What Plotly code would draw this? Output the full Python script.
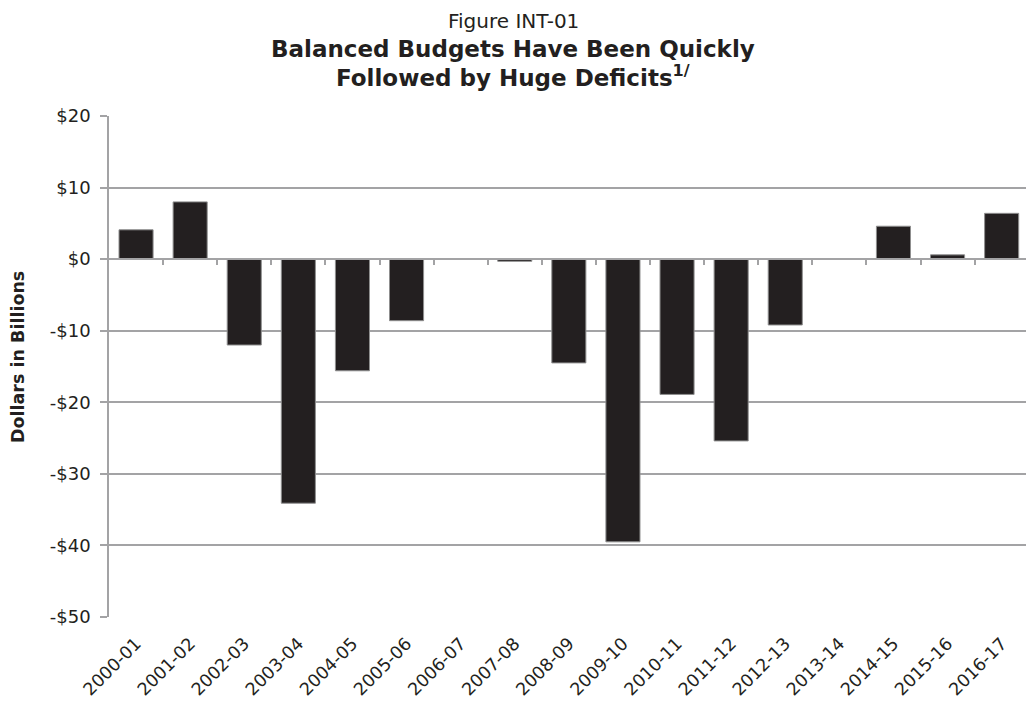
import plotly.graph_objects as go

categories = ["2000-01", "2001-02", "2002-03", "2003-04", "2004-05", "2005-06",
              "2006-07", "2007-08", "2008-09", "2009-10", "2010-11", "2011-12",
              "2012-13", "2013-14", "2014-15", "2015-16", "2016-17"]
values = [4.1, 8.0, -12.0, -34.1, -15.6, -8.6, 0.0, -0.3, -14.5, -39.5,
          -18.9, -25.4, -9.2, 0.0, 4.6, 0.6, 6.4]
y_tickvals = [20, 10, 0, -10, -20, -30, -40, -50]
y_ticktext = ["$20", "$10", "$0", "-$10", "-$20", "-$30", "-$40", "-$50"]
title_lines = ["Figure INT-01",
               "<b>Balanced Budgets Have Been Quickly</b>",
               "<b>Followed by Huge Deficits<sup>1/</sup></b>"]
y_title = "<b>Dollars in Billions</b>"

GRID = "#a3a3a5"
TXT = "#231f20"
FONT = "DejaVu Sans, Liberation Sans, Arial, sans-serif"
n = len(categories)
xr = [-0.5, n - 0.55]

# plot area in pixels: top 116, bottom 617, left 109, right 1026
T, B, L, R = 116, 617, 109, 1026
def py(p):
    return (B - p) / (B - T)
def px(p):
    return (p - L) / (R - L)

fig = go.Figure()
fig.add_trace(go.Bar(
    x=list(range(n)), y=values, width=0.63,
    marker=dict(color=TXT, line=dict(color="#8f8f8f", width=1)),
    hoverinfo="skip", showlegend=False,
))
fig.add_trace(go.Scatter(
    x=list(range(n)), y=values, xaxis="x2", mode="none",
    hoverinfo="skip", showlegend=False,
))

annos = []
for txt, yc, sz in zip(title_lines, [21, 49, 76], [20, 23, 23]):
    annos.append(dict(text=txt, x=px(513), y=py(yc), xref="paper", yref="paper",
                      xanchor="center", yanchor="middle", showarrow=False,
                      font=dict(size=sz, family=FONT, color=TXT)))
annos.append(dict(text=y_title, x=px(18), y=py(357), xref="paper", yref="paper",
                  xanchor="center", yanchor="middle", showarrow=False, textangle=-90,
                  font=dict(size=17.5, family=FONT, color=TXT)))

fig.update_layout(
    width=1026, height=707,
    margin=dict(l=L, r=0, t=T, b=707 - B),
    paper_bgcolor="white", plot_bgcolor="white",
    font=dict(family=FONT, color=TXT),
    annotations=annos,
    xaxis=dict(
        range=xr, tickmode="array", tickvals=list(range(n)), ticktext=categories,
        tickangle=-45, showgrid=False, showline=False, zeroline=False,
        ticks="", ticklabelstandoff=12,
        tickfont=dict(size=17.5, family=FONT, color=TXT),
        fixedrange=True,
    ),
    xaxis2=dict(
        range=xr, overlaying="x", anchor="free", position=50 / 70, side="bottom",
        tickmode="array", tickvals=[i + 0.5 for i in range(n - 1)],
        showticklabels=False, showline=True, linecolor=GRID, linewidth=1.5,
        ticks="outside", ticklen=5, tickcolor=GRID, tickwidth=1.5,
        showgrid=False, zeroline=False,
    ),
    yaxis=dict(
        range=[-50, 20], tickmode="array", tickvals=y_tickvals, ticktext=y_ticktext,
        showgrid=True, gridcolor=GRID, gridwidth=1.5,
        zeroline=False, showline=True, linecolor=GRID, linewidth=1.5,
        ticks="outside", ticklen=7, tickcolor=GRID, tickwidth=1.5,
        ticklabelstandoff=6,
        tickfont=dict(size=18, family=FONT, color=TXT),
    ),
)

fig.write_html("out.html")
